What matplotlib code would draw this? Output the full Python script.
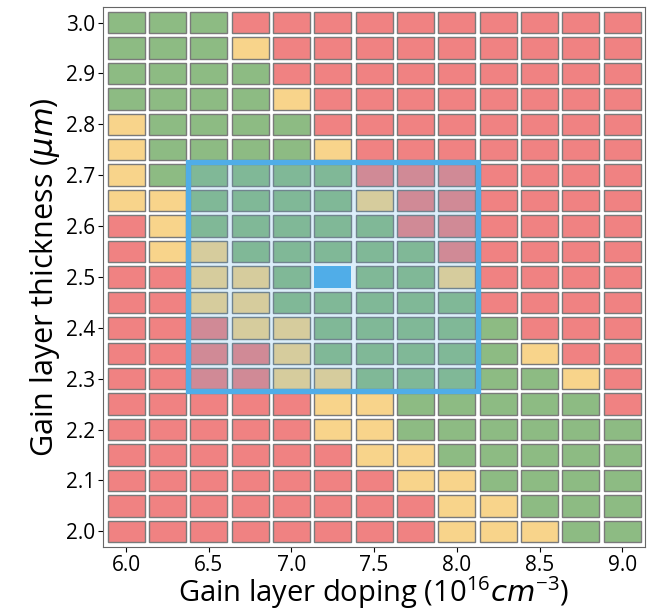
import matplotlib
matplotlib.use("Agg")
import matplotlib.pyplot as plt
from matplotlib.patches import Rectangle
import numpy as np

plt.rcParams["font.family"] = ["Open Sans", "DejaVu Sans"]
plt.rcParams["mathtext.fontset"] = "custom"
plt.rcParams["mathtext.rm"] = "Open Sans"
plt.rcParams["mathtext.it"] = "DejaVu Sans:italic"
plt.rcParams["mathtext.bf"] = "Open Sans:bold"

# Gain layer doping values (1e16 cm^-3) and thickness values (um)
doping = [6.0, 6.25, 6.5, 6.75, 7.0, 7.25, 7.5, 7.75, 8.0, 8.25, 8.5, 8.75, 9.0]
thickness = [3.0, 2.95, 2.9, 2.85, 2.8, 2.75, 2.7, 2.65, 2.6, 2.55, 2.5,
             2.45, 2.4, 2.35, 2.3, 2.25, 2.2, 2.15, 2.1, 2.05, 2.0]
# Status per cell, rows top (3.0) -> bottom (2.0): G=good, Y=marginal, R=bad, B=selected
status = [
    "GGGRRRRRRRRRR",
    "GGGYRRRRRRRRR",
    "GGGGRRRRRRRRR",
    "GGGGYRRRRRRRR",
    "YGGGGRRRRRRRR",
    "YGGGGYRRRRRRR",
    "YGGGGGRRRRRRR",
    "YYGGGGYRRRRRR",
    "RYGGGGGRRRRRR",
    "RYYGGGGGRRRRR",
    "RRYYGBGGYRRRR",
    "RRYYGGGGGRRRR",
    "RRRYYGGGGGRRR",
    "RRRRYGGGGGYRR",
    "RRRRYYGGGGGYR",
    "RRRRRYYGGGGGR",
    "RRRRRYYGGGGGG",
    "RRRRRRYYGGGGG",
    "RRRRRRRYYGGGG",
    "RRRRRRRRYYGGG",
    "RRRRRRRRYYYGG",
]
# Selected window (doping range, thickness range)
win_doping = [6.375, 8.125]
win_thick = [2.275, 2.725]

colors = {"G": "#8DBB83", "Y": "#F8D48B", "R": "#F08282", "B": "#50ADE8"}
blue = "#50ADE8"

fig = plt.figure(figsize=(6.57, 6.12), dpi=100)
ax = fig.add_axes([0.157, 0.106, 0.825, 0.883])

cw, ch = 0.225, 0.042
for code in "GYRB":
    xs, ys = [], []
    for i, row in enumerate(status):
        for j, c in enumerate(row):
            if c == code:
                xs.append(doping[j])
                ys.append(thickness[i])
    ys = np.array(ys)
    if code == "B":
        ax.bar(xs, ch, width=cw, bottom=ys - ch / 2, color=colors[code],
               edgecolor="none", zorder=3)
    else:
        ax.bar(xs, ch, width=cw, bottom=ys - ch / 2, color=colors[code],
               edgecolor="#7a7a7a", linewidth=1.0, zorder=2)

w = win_doping[1] - win_doping[0]
h = win_thick[1] - win_thick[0]
ax.add_patch(Rectangle((win_doping[0], win_thick[0]), w, h, facecolor=blue,
                       alpha=0.2, edgecolor="none", zorder=4))
ax.add_patch(Rectangle((win_doping[0], win_thick[0]), w, h, facecolor="none",
                       edgecolor=blue, linewidth=3.8, zorder=5))

ax.set_xlim(5.861, 9.139)
ax.set_ylim(1.969, 3.031)
ax.set_xticks([6.0, 6.5, 7.0, 7.5, 8.0, 8.5, 9.0])
ax.set_yticks([2.0, 2.1, 2.2, 2.3, 2.4, 2.5, 2.6, 2.7, 2.8, 2.9, 3.0])
ax.tick_params(labelsize=15, pad=2)
for s in ax.spines.values():
    s.set_color("#666666")
ax.set_xlabel(r"Gain layer doping ($10^{16}cm^{-3}$)", fontsize=21, labelpad=-1)
ax.set_ylabel(r"Gain layer thickness ($\mu m$)", fontsize=22, labelpad=3)

fig.savefig("out.png", dpi=100)
